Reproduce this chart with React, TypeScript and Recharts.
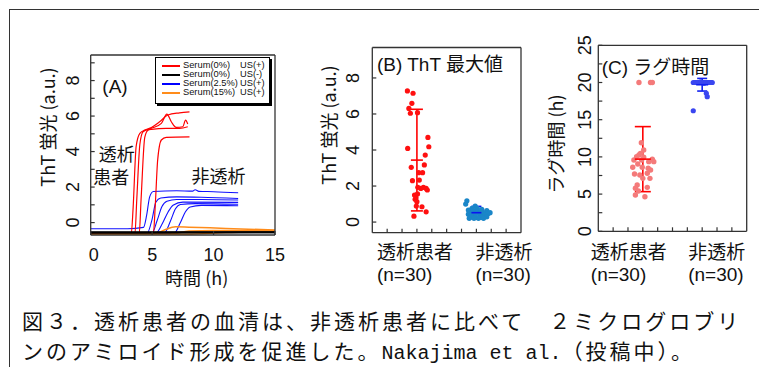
import React from 'react'
import { LineChart, Line, XAxis, YAxis, ScatterChart, Scatter, ErrorBar } from 'recharts'

const FONT = '"Liberation Sans", "Noto Sans CJK JP", sans-serif'
const CJK = '"Noto Sans CJK JP", "Liberation Sans", sans-serif'
const AX = '#333'

// (A) ThT fluorescence time courses: [time (h), ThT (a.u.)]
const timeTicks = [0, 5, 10, 15]
const thtTicks = [0, 1, 2, 3, 4, 5, 6, 7, 8, 9]

const redRuns = [
  [[0, -0.63], [3.3, -0.63], [3.45, 0.8], [3.7, 4.3], [4.0, 5.03], [4.4, 5.21], [4.94, 5.36], [5.61, 5.68], [6.28, 6.06], [7.23, 6.18], [8.04, 6.24]],
  [[0, -0.63], [3.6, -0.63], [3.75, 1.3], [4.0, 4.4], [4.26, 5.12], [4.94, 5.31], [5.75, 5.59], [6.2, 6.11], [6.56, 5.68], [6.96, 5.36], [7.5, 5.4], [7.72, 5.77], [7.9, 5.55]],
  [[0, -0.65], [3.95, -0.63], [4.1, 1.3], [4.4, 4.8], [4.67, 5.21], [4.94, 5.25], [6.15, 5.31], [7.23, 5.31], [7.9, 5.4]],
  [[0, -0.65], [5.1, -0.63], [5.25, 0.9], [5.45, 3.52], [5.75, 4.65], [6.15, 4.8], [8.04, 4.83]],
]

const blueRuns = [
  [[0, -0.35], [3.0, -0.35], [4.3, -0.27], [4.55, 0.4], [4.8, 1.45], [5.1, 1.75], [7, 1.79], [8.3, 1.77], [8.5, 1.85], [8.8, 1.76], [10, 1.74], [12, 1.68]],
  [[0, -0.63], [4.6, -0.58], [5.0, 0.2], [5.3, 1.15], [5.7, 1.38], [7, 1.45], [9, 1.43], [12, 1.36]],
  [[0, -0.65], [5.0, -0.58], [5.4, 0.1], [5.8, 0.9], [6.2, 1.2], [7, 1.3], [9, 1.3], [12, 1.27]],
  [[0, -0.66], [5.3, -0.6], [5.8, -0.1], [6.3, 0.6], [6.7, 0.98], [7.5, 1.15], [12, 1.14]],
  [[0, -0.66], [6.0, -0.58], [6.5, 0.1], [6.9, 0.78], [7.3, 1.02], [8.5, 1.07], [12, 1.03]],
  [[0, -0.68], [6.8, -0.6], [7.3, 0.0], [7.7, 0.6], [8.1, 0.88], [9, 0.97], [12, 0.95]],
]

const orangeRuns = [
  [[0, -0.66], [5.2, -0.64], [6.0, -0.42], [6.9, -0.24], [8, -0.26], [11, -0.33], [15, -0.42]],
  [[0, -0.66], [6.5, -0.64], [8, -0.48], [10, -0.44], [15, -0.46]],
  [[0, -0.68], [8, -0.66], [11, -0.56], [15, -0.52]],
]

const blackRuns = [
  [[0, -0.55], [15, -0.55]],
  [[0, -0.58], [8, -0.56], [15, -0.54]],
]

const legendItems = [
  { name: 'Serum(0%)', us: 'US(+)', color: '#ff0000' },
  { name: 'Serum(0%)', us: 'US(-)', color: '#000000' },
  { name: 'Serum(2.5%)', us: 'US(+)', color: '#0000ff' },
  { name: 'Serum(15%)', us: 'US(+)', color: '#ff8c1a' },
]

// (B), (C) groups on a shared x scale: 1 = dialysis, 3 = non-dialysis
const groupTicks = [0, 0.5, 1, 1.5, 2, 2.5, 3, 3.5, 4]
const groupNames: Record<number, string> = { 1: '透析患者', 3: '非透析' }

// (B) max ThT: [jitter, value]
const maxDialysis = [
  [-0.32, 7.28], [-0.13, 7.15], [-0.17, 6.59], [-0.27, 6.31], [-0.22, 6.04], [0.02, 6.07],
  [0.37, 4.7], [0.4, 4.18], [-0.31, 4.09], [0.28, 3.72], [-0.19, 3.04], [0.25, 3.17],
  [-0.15, 2.3], [0.06, 2.74], [0.19, 2.74], [0.35, 1.78], [0.22, 1.93], [0.13, 1.87],
  [0.31, 1.87], [-0.08, 1.5], [0.02, 1.56], [-0.03, 1.35], [-0.06, 1.26], [0.0, 1.13],
  [-0.02, 0.89], [0.17, 0.85], [0.31, 0.57], [-0.1, 0.33], [0.03, 1.93], [0.08, 2.33],
]
const maxNonDialysis = [
  [-0.32, 1.18], [-0.36, 1.0], [-0.04, 0.89], [-0.15, 0.76], [0.18, 0.71], [0.35, 0.63],
  [-0.21, 0.57], [0.01, 0.57], [0.24, 0.52], [0.4, 0.48], [-0.27, 0.44], [-0.1, 0.44],
  [0.12, 0.39], [0.29, 0.37], [-0.21, 0.29], [-0.04, 0.29], [0.18, 0.26], [0.35, 0.29],
  [-0.24, 0.21], [0.07, 0.21], [-0.12, 0.67], [0.03, 0.76], [-0.15, 0.37], [0.1, 0.52],
  [0.46, 0.52], [-0.08, 0.21], [0.24, 0.21], [-0.01, 0.48], [-0.27, 0.67], [0.15, 0.57],
]
const maxStats = [
  { x: 1, y: 3.44, sd: 2.82 },
  { x: 3, y: 0.52, sd: 0.35 },
]

// (C) lag time (h): [jitter, value]
const lagDialysis = [
  [-0.13, 20], [0.26, 20], [0.32, 20],
  [-0.05, 11.91], [-0.08, 10.48], [-0.21, 10.03], [0.03, 9.95], [-0.3, 9.58], [0.32, 9.68],
  [0.37, 9.36], [0.2, 9.36], [-0.17, 9.05], [-0.34, 8.6], [-0.02, 8.6], [0.18, 8.47],
  [-0.28, 7.7], [0.15, 7.8], [-0.1, 7.57], [0.24, 7.12], [0.0, 7.12], [-0.19, 6.22],
  [0.15, 5.91], [-0.25, 5.78], [-0.15, 5.42], [-0.25, 4.88], [0.07, 4.65], [0.26, 8.24],
  [0.03, 10.93], [-0.13, 10.26], [-0.04, 9.58],
]
const lagNonDialysis = [
  [-0.3, 20], [-0.25, 20], [-0.2, 20], [-0.17, 20], [-0.13, 20], [-0.1, 20], [-0.07, 20],
  [-0.04, 20], [-0.01, 20], [0.02, 20], [0.05, 20], [0.08, 20], [0.11, 20], [0.14, 20],
  [0.17, 20], [0.2, 20], [0.23, 20], [0.26, 20], [0.3, 20], [0.34, 20], [-0.22, 20],
  [0.0, 20], [0.12, 20], [-0.15, 20], [0.28, 20], [0.06, 19.9], [-0.05, 20.1],
  [0.14, 18.55], [0.17, 18.1], [-0.3, 16.2],
]
const lagStats = [
  { x: 1, y: 9.7, sd: 4.37 },
  { x: 3, y: 19.7, sd: 0.85 },
]
const lagTicks = [0, 2.5, 5, 7.5, 10, 12.5, 15, 17.5, 20, 22.5, 25]

const toLine = (run: number[][]) => run.map(([t, v]) => ({ t, v }))
const toPts = (pts: number[][], center: number) => pts.map(([dx, v]) => ({ x: center + dx, y: v }))

const axisLine = { stroke: AX, strokeWidth: 1.3 }
const tickLine = { stroke: AX, strokeWidth: 1.2 }

function rotLabel(cx: number, every: number, max: number) {
  return (p: any) => {
    const v = p.payload.value
    if (v % every !== 0 || v > max) return <g />
    return (
      <text x={cx} y={p.y} transform={`rotate(-90 ${cx} ${p.y})`} textAnchor="middle"
        dominantBaseline="central" fontSize={18} fontFamily={FONT} fill="#111">{v}</text>
    )
  }
}

function groupLabel(offsets: Record<number, number>) {
  return (p: any) => {
    const v = p.payload.value
    const name = groupNames[v]
    if (!name) return <g />
    const x = p.x + offsets[v]
    return (
      <g fill="#111" fontSize={19}>
        <text x={x} y={250} dominantBaseline="central" fontFamily={CJK}>{name}</text>
        <text x={x} y={274} dominantBaseline="central" fontFamily={FONT}>(n=30)</text>
      </g>
    )
  }
}

const dot = (r: number, fill: string) => (p: any) => <circle cx={p.cx} cy={p.cy} r={r} fill={fill} />
const meanCap = (w: number, stroke: string) => (p: any) =>
  <line x1={p.cx - w / 2} x2={p.cx + w / 2} y1={p.cy} y2={p.cy} stroke={stroke} strokeWidth={1.6} />

const abs: React.CSSProperties = { position: 'absolute', left: 0, top: 0 }

function Txt({ x, y, size = 18, rot = false, font = CJK, children, anchor = 'middle', style }: any) {
  const tx = anchor === 'middle' ? '-50%' : '0'
  return (
    <div style={{
      position: 'absolute', left: x, top: y, fontSize: size, fontFamily: font, lineHeight: 1,
      whiteSpace: 'nowrap', color: '#111',
      transform: `translate(${tx}, -50%)${rot ? ' rotate(-90deg)' : ''}`,
      ...style,
    }}>{children}</div>
  )
}

export default function App() {
  return (
    <div style={{ position: 'absolute', left: 0, top: 0, width: 759, height: 367, background: '#fff', overflow: 'hidden' }}>
      <div style={{ position: 'absolute', left: 9, top: 9, width: 800, height: 400, borderTop: '1.5px solid #333', borderLeft: '1.5px solid #333' }} />

      {/* (A) */}
      <div style={abs}>
        <LineChart width={759} height={300} margin={{ top: 54, left: 60.7, right: 483, bottom: 35 }}>
          <XAxis dataKey="t" type="number" domain={[0, 15]} ticks={timeTicks} interval={0}
            axisLine={axisLine} tickLine={tickLine} tickSize={-4} height={30}
            tick={(p: any) => <text x={p.x + (p.payload.value === 0 ? 3 : 0)} y={255} textAnchor="middle" dominantBaseline="central" fontSize={18} fontFamily={FONT} fill="#111">{p.payload.value}</text>} />
          <XAxis xAxisId="top" orientation="top" type="number" domain={[0, 15]} ticks={timeTicks}
            axisLine={axisLine} tickLine={tickLine} tickSize={-4} height={1} tick={false} />
          <YAxis type="number" domain={[-0.7, 9.44]} ticks={thtTicks} interval={0} allowDataOverflow
            axisLine={axisLine} tickLine={tickLine} tickSize={-4} width={30} tick={rotLabel(73.3, 2, 8)} />
          <YAxis yAxisId="right" orientation="right" type="number" domain={[-0.7, 9.44]} ticks={thtTicks}
            axisLine={axisLine} tickLine={tickLine} tickSize={-4} width={1} tick={false} />
          {blueRuns.map((r, i) => (
            <Line key={'b' + i} data={toLine(r)} dataKey="v" type="monotone" stroke="#1010ff" strokeWidth={1.1} dot={false} isAnimationActive={false} />
          ))}
          {redRuns.map((r, i) => (
            <Line key={'r' + i} data={toLine(r)} dataKey="v" type="monotone" stroke="#ff0000" strokeWidth={1.2} dot={false} isAnimationActive={false} />
          ))}
          {orangeRuns.map((r, i) => (
            <Line key={'o' + i} data={toLine(r)} dataKey="v" type="monotone" stroke="#ff8c1a" strokeWidth={1.5} dot={false} isAnimationActive={false} />
          ))}
          {blackRuns.map((r, i) => (
            <Line key={'k' + i} data={toLine(r)} dataKey="v" type="monotone" stroke="#000" strokeWidth={2} dot={false} isAnimationActive={false} />
          ))}
        </LineChart>
      </div>

      <div style={{ position: 'absolute', left: 155, top: 57, width: 113, height: 45, border: '1.3px solid #000', boxShadow: '2px 2px 0 #000', background: '#fff' }}>
        {legendItems.map((it, i) => (
          <div key={i} style={{ position: 'absolute', left: 0, top: 3 + i * 9, height: 9, width: 113, fontFamily: FONT, fontSize: 9.3, lineHeight: '9px', color: '#111' }}>
            <span style={{ position: 'absolute', left: 6, top: 4, width: 18, height: 1.5, background: it.color }} />
            <span style={{ position: 'absolute', left: 27, top: 0 }}>{it.name}</span>
            <span style={{ position: 'absolute', left: 84, top: 0 }}>{it.us}</span>
          </div>
        ))}
      </div>

      <Txt x={115} y={86} size={19} font={FONT}>(A)</Txt>
      <Txt x={116.7} y={154.5} font={FONT} style={{ lineHeight: '19px' }}>透析</Txt>
      <Txt x={111.3} y={178} font={FONT} style={{ lineHeight: '19px' }}>患者</Txt>
      <Txt x={218.5} y={175}>非透析</Txt>
      <Txt x={47} y={127} rot>ThT 蛍光 (a.u.)</Txt>
      <Txt x={196.7} y={276.5}>時間 (h)</Txt>

      {/* (B) */}
      <div style={abs}>
        <ScatterChart width={759} height={300} margin={{ top: 46.5, left: 342.3, right: 237, bottom: 37.3 }}>
          <XAxis dataKey="x" type="number" domain={[-0.5, 4.5]} ticks={groupTicks} interval={0}
            axisLine={axisLine} tickLine={tickLine} tickSize={-4} height={30} tick={groupLabel({ 1: -40, 3: -1 })} />
          <XAxis xAxisId="top" orientation="top" type="number" domain={[-0.5, 4.5]} ticks={groupTicks}
            axisLine={axisLine} tickLine={tickLine} tickSize={-4} height={1} tick={false} />
          <YAxis dataKey="y" type="number" domain={[-0.59, 9.69]} ticks={[0, 2, 4, 6, 8]} interval={0}
            axisLine={axisLine} tickLine={tickLine} tickSize={-4} width={30} tick={rotLabel(353, 2, 8)} />
          <YAxis yAxisId="right" orientation="right" type="number" domain={[-0.59, 9.69]} ticks={[0, 2, 4, 6, 8]}
            axisLine={axisLine} tickLine={tickLine} tickSize={-4} width={1} tick={false} />
          <Scatter data={toPts(maxDialysis, 1)} shape={dot(2.6, '#ff1010')} isAnimationActive={false} />
          <Scatter data={toPts(maxNonDialysis, 3)} shape={dot(2.6, '#1a86c8')} isAnimationActive={false} />
          <Scatter data={[maxStats[0]]} shape={meanCap(12, '#ff0000')} isAnimationActive={false}>
            <ErrorBar dataKey="sd" direction="y" width={6} stroke="#ff0000" strokeWidth={1.6} isAnimationActive={false} />
          </Scatter>
          <Scatter data={[maxStats[1]]} shape={meanCap(10, '#0a14f0')} isAnimationActive={false}>
            <ErrorBar dataKey="sd" direction="y" width={5} stroke="#0a14f0" strokeWidth={1.6} isAnimationActive={false} />
          </Scatter>
        </ScatterChart>
      </div>

      <Txt x={377} y={64} size={19} font={FONT} anchor="start">(B) ThT 最大値</Txt>
      <Txt x={328.3} y={125} rot>ThT 蛍光 (a.u.)</Txt>

      {/* (C) */}
      <div style={abs}>
        <ScatterChart width={759} height={300} margin={{ top: 44.3, left: 568.3, right: 11.3, bottom: 38.7 }}>
          <XAxis dataKey="x" type="number" domain={[-0.5, 4.5]} ticks={groupTicks} interval={0}
            axisLine={axisLine} tickLine={tickLine} tickSize={-4} height={30} tick={groupLabel({ 1: -52, 3: -14 })} />
          <XAxis xAxisId="top" orientation="top" type="number" domain={[-0.5, 4.5]} ticks={groupTicks}
            axisLine={axisLine} tickLine={tickLine} tickSize={-4} height={1} tick={false} />
          <YAxis dataKey="y" type="number" domain={[0, 25]} ticks={lagTicks} interval={0}
            axisLine={axisLine} tickLine={tickLine} tickSize={-4} width={30} tick={rotLabel(585, 5, 25)} />
          <YAxis yAxisId="right" orientation="right" type="number" domain={[0, 25]} ticks={lagTicks}
            axisLine={axisLine} tickLine={tickLine} tickSize={-4} width={1} tick={false} />
          <Scatter data={toPts(lagDialysis, 1)} shape={dot(2.7, '#f47a7a')} isAnimationActive={false} />
          <Scatter data={toPts(lagNonDialysis, 3)} shape={dot(2.6, '#3a46f0')} isAnimationActive={false} />
          <Scatter data={[lagStats[0]]} shape={meanCap(16, '#ff0000')} isAnimationActive={false}>
            <ErrorBar dataKey="sd" direction="y" width={8} stroke="#ff0000" strokeWidth={1.6} isAnimationActive={false} />
          </Scatter>
          <Scatter data={[lagStats[1]]} shape={meanCap(12, '#1020f0')} isAnimationActive={false}>
            <ErrorBar dataKey="sd" direction="y" width={5} stroke="#1020f0" strokeWidth={1.6} isAnimationActive={false} />
          </Scatter>
        </ScatterChart>
      </div>

      <Txt x={601.7} y={66.5} size={19} font={FONT} anchor="start">(C) ラグ時間</Txt>
      <Txt x={555} y={144} rot>ラグ時間 (h)</Txt>

      {/* caption */}
      <div style={{ position: 'absolute', left: 22, top: 305, fontFamily: CJK, fontSize: 21, letterSpacing: 3, lineHeight: '30px', whiteSpace: 'nowrap', color: '#111' }}>
        図３．透析患者の血清は、非透析患者に比べて　２ミクログロブリ<br />
        ンのアミロイド形成を促進した。<span style={{ fontFamily: '"Liberation Mono", monospace', fontSize: 20, letterSpacing: 0 }}>Nakajima et al.</span>（投稿中）。
      </div>
    </div>
  )
}
